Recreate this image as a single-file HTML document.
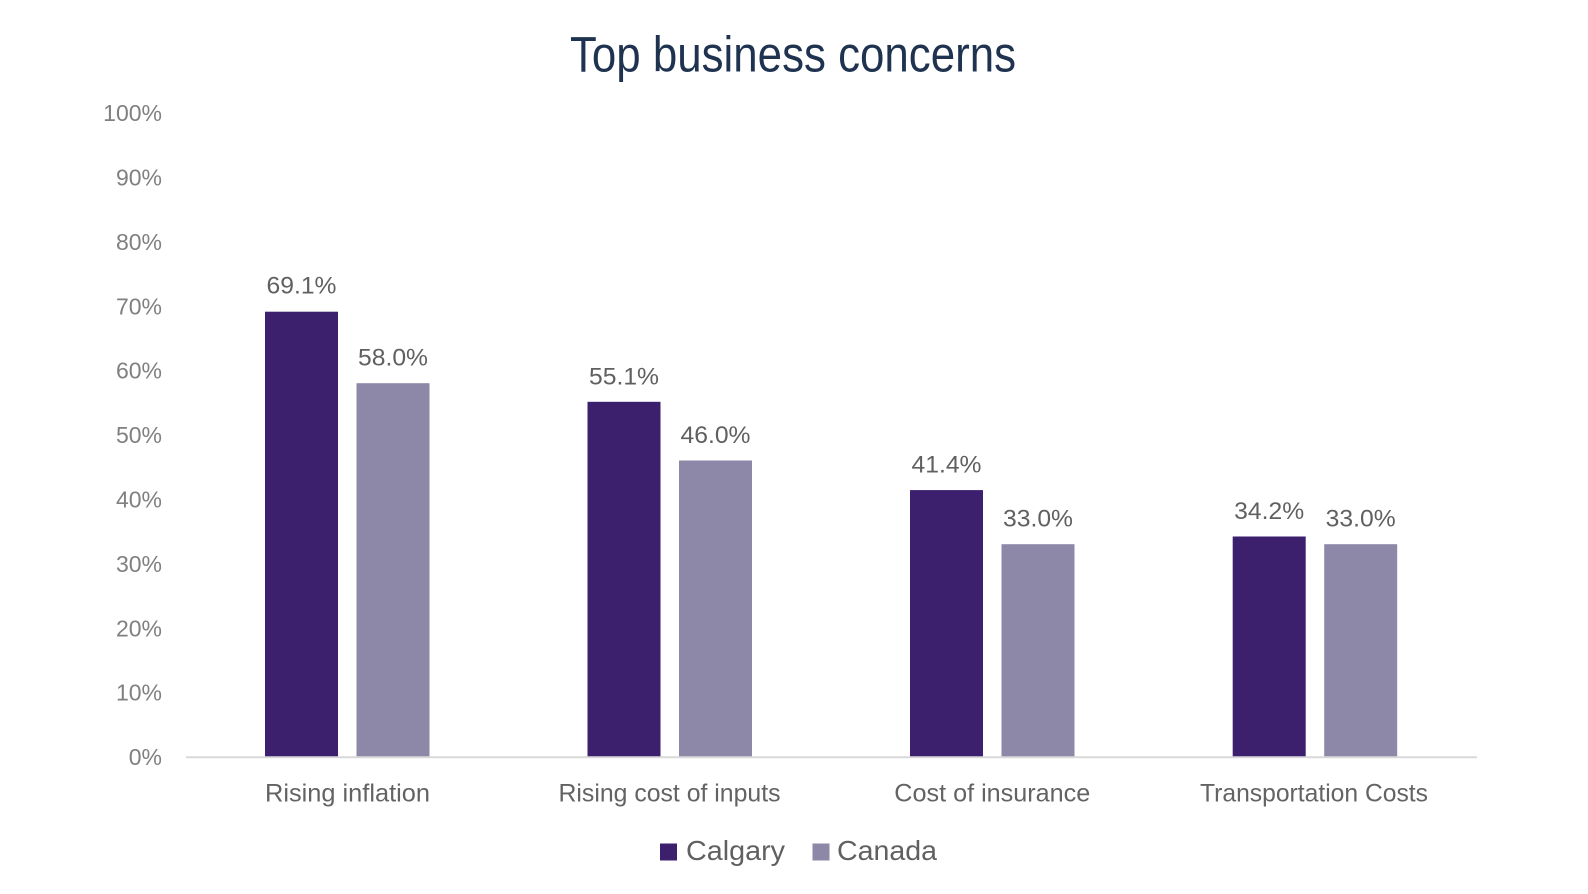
<!DOCTYPE html>
<html>
<head>
<meta charset="utf-8">
<style>
  html,body{margin:0;padding:0;background:#ffffff;}
  svg{display:block;}
  text{font-family:"Liberation Sans", sans-serif;}
</style>
</head>
<body>
<svg width="1588" height="894" viewBox="0 0 1588 894" xmlns="http://www.w3.org/2000/svg">
  <rect width="1588" height="894" fill="#ffffff"/>
  <!-- Title -->
  <text x="793" y="71.5" text-anchor="middle" font-size="50" fill="#1f3350" textLength="446" lengthAdjust="spacingAndGlyphs">Top business concerns</text>

  <!-- Y axis labels -->
  <g font-size="23" fill="#808080" text-anchor="end">
    <text x="162" y="765">0%</text>
    <text x="162" y="700.7">10%</text>
    <text x="162" y="636.3">20%</text>
    <text x="162" y="571.9">30%</text>
    <text x="162" y="507.5">40%</text>
    <text x="162" y="443.1">50%</text>
    <text x="162" y="378.7">60%</text>
    <text x="162" y="314.3">70%</text>
    <text x="162" y="249.9">80%</text>
    <text x="162" y="185.5">90%</text>
    <text x="162" y="121.1">100%</text>
  </g>

  <!-- Bars -->
  <g>
    <rect x="265" y="311.7" width="73" height="445" fill="#3c1f6d"/>
    <rect x="356.5" y="383.2" width="73" height="373.5" fill="#8d87a8"/>

    <rect x="587.5" y="401.8" width="73" height="354.9" fill="#3c1f6d"/>
    <rect x="679" y="460.5" width="73" height="296.2" fill="#8d87a8"/>

    <rect x="910" y="490.1" width="73" height="266.6" fill="#3c1f6d"/>
    <rect x="1001.5" y="544.2" width="73" height="212.5" fill="#8d87a8"/>

    <rect x="1232.7" y="536.5" width="73" height="220.2" fill="#3c1f6d"/>
    <rect x="1324.2" y="544.2" width="73" height="212.5" fill="#8d87a8"/>
  </g>

  <!-- Axis line -->
  <line x1="186" y1="757.2" x2="1477" y2="757.2" stroke="#d9d9d9" stroke-width="2"/>

  <!-- Data labels -->
  <g font-size="24" fill="#606060" text-anchor="middle">
    <text x="301.5" y="293.5" textLength="70" lengthAdjust="spacingAndGlyphs">69.1%</text>
    <text x="393" y="365.5" textLength="70" lengthAdjust="spacingAndGlyphs">58.0%</text>
    <text x="624" y="384.3" textLength="70" lengthAdjust="spacingAndGlyphs">55.1%</text>
    <text x="715.5" y="443" textLength="70" lengthAdjust="spacingAndGlyphs">46.0%</text>
    <text x="946.5" y="472.6" textLength="70" lengthAdjust="spacingAndGlyphs">41.4%</text>
    <text x="1038" y="526.7" textLength="70" lengthAdjust="spacingAndGlyphs">33.0%</text>
    <text x="1269.2" y="519" textLength="70" lengthAdjust="spacingAndGlyphs">34.2%</text>
    <text x="1360.7" y="526.7" textLength="70" lengthAdjust="spacingAndGlyphs">33.0%</text>
  </g>

  <!-- Category labels -->
  <g font-size="25.4" fill="#636363" text-anchor="middle">
    <text x="347.5" y="801.7" textLength="165" lengthAdjust="spacingAndGlyphs">Rising inflation</text>
    <text x="669.5" y="801.7" textLength="222" lengthAdjust="spacingAndGlyphs">Rising cost of inputs</text>
    <text x="992.3" y="801.7" textLength="196" lengthAdjust="spacingAndGlyphs">Cost of insurance</text>
    <text x="1314" y="801.7" textLength="228" lengthAdjust="spacingAndGlyphs">Transportation Costs</text>
  </g>

  <!-- Legend -->
  <rect x="660" y="843.5" width="17" height="17" fill="#3c1f6d"/>
  <text x="686" y="860" font-size="28" fill="#606060" textLength="99" lengthAdjust="spacingAndGlyphs">Calgary</text>
  <rect x="812.5" y="843.5" width="17" height="17" fill="#8d87a8"/>
  <text x="837" y="860" font-size="28" fill="#606060" textLength="100" lengthAdjust="spacingAndGlyphs">Canada</text>
</svg>
</body>
</html>
